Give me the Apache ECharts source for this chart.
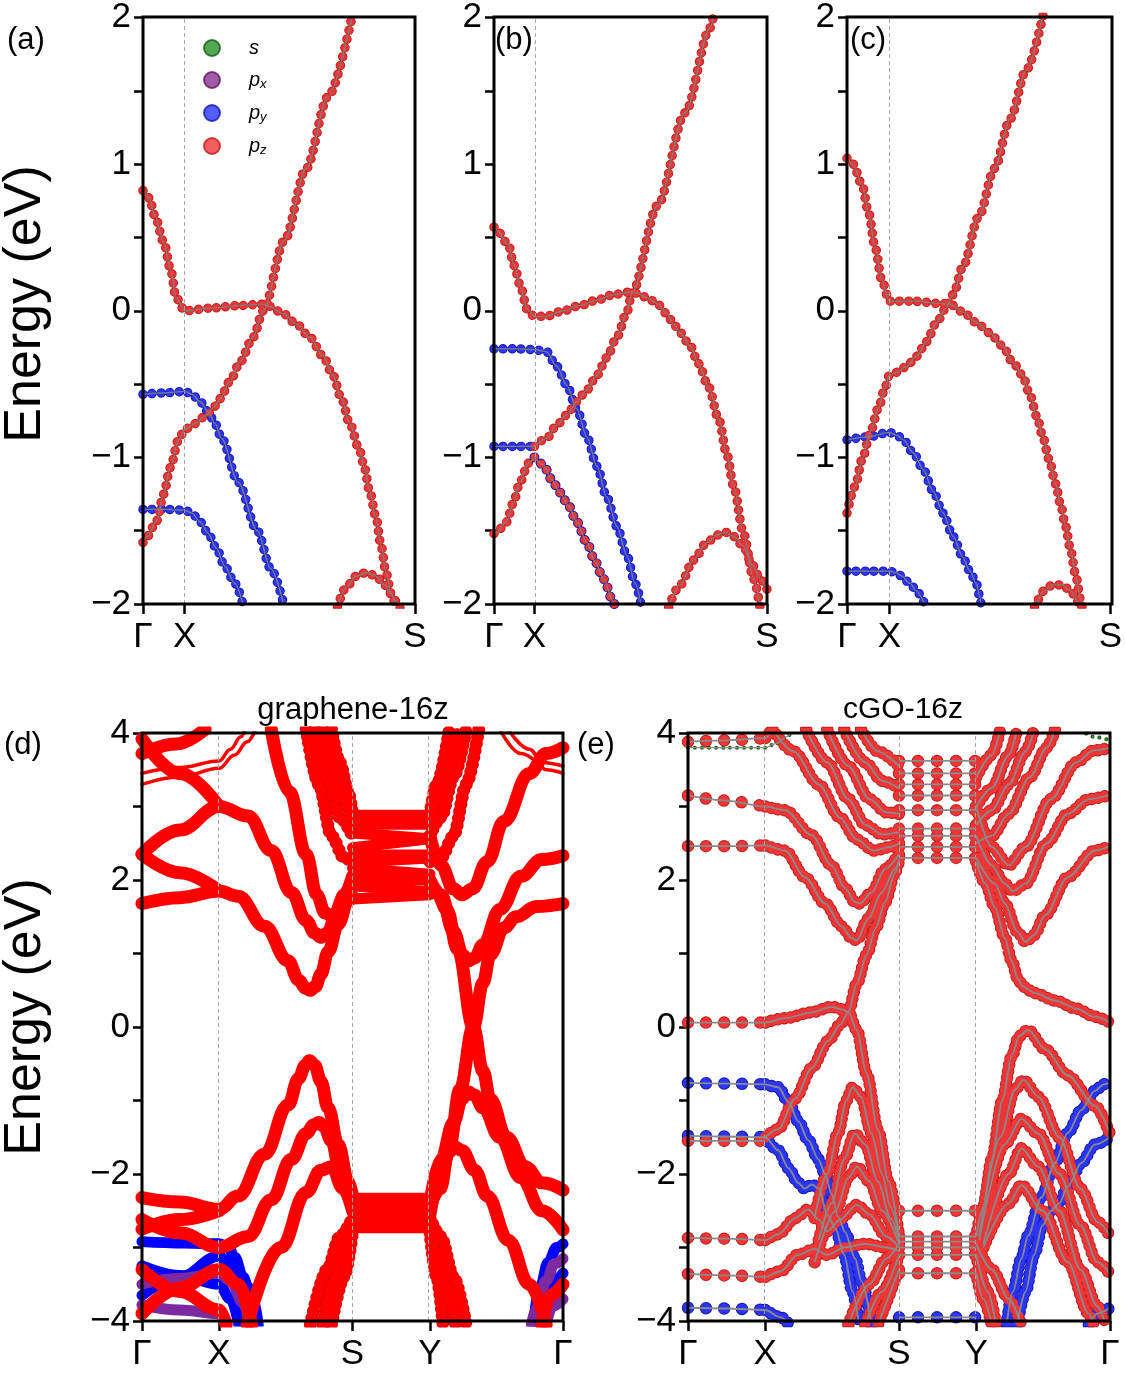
<!DOCTYPE html>
<html>
<head>
<meta charset="utf-8">
<script src="https://cdn.jsdelivr.net/npm/echarts@6/dist/echarts.min.js"></script>
<style>html,body{margin:0;background:#fff}#main{width:1125px;height:1375px}</style>
</head>
<body>
<div id="main"></div>
<script>
var FONT = 'Liberation Sans, Arial, Helvetica, sans-serif';

// ---- high symmetry points (fraction of k-path) ----
var ticksA = [0, 0.153, 1], ticksB = [0, 0.148, 1], ticksC = [0, 0.161, 1];
var ticksD = [0, 0.183, 0.5, 0.684, 1], ticksE = [0, 0.183, 0.5, 0.683, 1];
var namesTop = ['Γ', 'X', 'S'], namesBot = ['Γ', 'X', 'S', 'Y', 'Γ'];

// ---- panel (a) bands [k, E] ----
var a_pz1 = [[0,0.82],[0.023,0.77],[0.043,0.65],[0.076,0.47],[0.103,0.27],[0.121,0.09],[0.153,0.0],[0.259,0.02],[0.357,0.036],[0.442,0.045],[0.466,0.03],[0.515,-0.02],[0.564,-0.09],[0.613,-0.18],[0.662,-0.31],[0.698,-0.44],[0.73,-0.6],[0.76,-0.77],[0.796,-0.95],[0.814,-1.07],[0.833,-1.23],[0.857,-1.41],[0.875,-1.6],[0.894,-1.79],[0.912,-1.93],[0.93,-2.03]];
var a_pz2 = [[0,-1.58],[0.015,-1.54],[0.051,-1.43],[0.076,-1.25],[0.1,-1.07],[0.131,-0.88],[0.153,-0.81],[0.19,-0.77],[0.234,-0.71],[0.265,-0.65],[0.283,-0.6],[0.32,-0.48],[0.357,-0.35],[0.405,-0.18],[0.442,0.0],[0.52,0.48],[0.6,0.97],[0.68,1.46],[0.77,2.02]];
var a_py1 = [[0,-0.57],[0.08,-0.56],[0.153,-0.55],[0.18,-0.57],[0.21,-0.62],[0.24,-0.69],[0.265,-0.77],[0.289,-0.87],[0.35,-1.17],[0.42,-1.5],[0.47,-1.76],[0.52,-2.02]];
var a_py2 = [[0,-1.355],[0.08,-1.355],[0.153,-1.36],[0.18,-1.38],[0.21,-1.44],[0.24,-1.52],[0.27,-1.62],[0.3,-1.74],[0.338,-1.86],[0.37,-2.02]];
var a_pz3 = [[0.715,-2.02],[0.747,-1.885],[0.784,-1.81],[0.821,-1.785],[0.857,-1.81],[0.888,-1.87],[0.912,-1.93],[0.93,-1.98],[0.945,-2.03]];

// ---- panel (b) ----
var b_pz1 = [[0,0.57],[0.01,0.55],[0.053,0.45],[0.073,0.31],[0.1,0.15],[0.12,0.013],[0.148,-0.04],[0.193,-0.036],[0.254,0.0],[0.315,0.036],[0.377,0.073],[0.438,0.11],[0.499,0.128],[0.523,0.12],[0.56,0.09],[0.597,0.05],[0.633,-0.02],[0.658,-0.09],[0.682,-0.15],[0.719,-0.24],[0.749,-0.36],[0.786,-0.52],[0.823,-0.74],[0.853,-0.98],[0.878,-1.2],[0.914,-1.52],[0.951,-1.83],[0.975,-2.03]];
var b_py1 = [[0,-0.26],[0.08,-0.26],[0.148,-0.265],[0.193,-0.28],[0.23,-0.38],[0.267,-0.51],[0.303,-0.67],[0.34,-0.86],[0.377,-1.06],[0.413,-1.27],[0.45,-1.47],[0.487,-1.67],[0.517,-1.86],[0.54,-2.02]];
var b_py2 = [[0,-0.925],[0.08,-0.925],[0.148,-0.925]];
var b_pz2 = [[0.148,-0.925],[0.193,-0.87],[0.23,-0.78],[0.267,-0.71],[0.303,-0.62],[0.34,-0.54],[0.377,-0.44],[0.413,-0.32],[0.45,-0.18],[0.487,-0.01],[0.505,0.12],[0.6,0.72],[0.7,1.35],[0.792,1.93],[0.805,2.02]];
var b_pz3 = [[0,-1.52],[0.01,-1.51],[0.046,-1.44],[0.071,-1.31],[0.095,-1.17],[0.126,-1.04],[0.148,-1.0]];
var b_mix = [[0.148,-1.0],[0.181,-1.05],[0.211,-1.15],[0.242,-1.24],[0.273,-1.33],[0.303,-1.44],[0.34,-1.58],[0.37,-1.71],[0.401,-1.83],[0.438,-1.99],[0.445,-2.03]];
var b_pz4 = [[0.64,-2.02],[0.682,-1.87],[0.731,-1.7],[0.78,-1.58],[0.817,-1.53],[0.847,-1.51],[0.878,-1.54],[0.914,-1.61],[0.945,-1.73],[0.976,-1.83],[1,-1.9]];

// ---- panel (c) ----
var c_pz1 = [[0,1.04],[0.023,1.0],[0.057,0.86],[0.082,0.67],[0.107,0.43],[0.132,0.21],[0.161,0.065],[0.252,0.065],[0.352,0.05],[0.39,0.045],[0.44,-0.007],[0.491,-0.08],[0.541,-0.15],[0.591,-0.24],[0.629,-0.35],[0.667,-0.44],[0.692,-0.56],[0.723,-0.73],[0.742,-0.85],[0.767,-1.01],[0.792,-1.18],[0.811,-1.32],[0.83,-1.47],[0.849,-1.63],[0.868,-1.8],[0.887,-1.97],[0.893,-2.03]];
var c_pz2 = [[0,-1.38],[0.03,-1.2],[0.06,-1.0],[0.09,-0.82],[0.12,-0.66],[0.145,-0.52],[0.161,-0.44],[0.189,-0.42],[0.226,-0.38],[0.264,-0.31],[0.302,-0.21],[0.34,-0.08],[0.377,0.02],[0.403,0.11],[0.44,0.3],[0.5,0.64],[0.56,0.97],[0.62,1.31],[0.68,1.64],[0.745,2.02]];
var c_py1 = [[0,-0.88],[0.08,-0.86],[0.161,-0.83],[0.19,-0.85],[0.214,-0.88],[0.252,-0.97],[0.289,-1.08],[0.327,-1.23],[0.365,-1.38],[0.403,-1.54],[0.44,-1.68],[0.465,-1.77],[0.491,-1.86],[0.503,-1.94],[0.51,-2.02]];
var c_py2 = [[0,-1.776],[0.08,-1.776],[0.161,-1.776],[0.19,-1.79],[0.208,-1.81],[0.239,-1.86],[0.264,-1.91],[0.296,-1.99],[0.3,-2.02]];
var c_pz3 = [[0.712,-2.02],[0.717,-1.99],[0.748,-1.91],[0.78,-1.87],[0.818,-1.87],[0.849,-1.91],[0.88,-1.99],[0.885,-2.02]];

// ---- panel (d) graphene-16z ----
var d_c1 = [[0,1.68],[0.09,1.76],[0.183,1.85],[0.228,1.78],[0.291,1.37],[0.347,0.9],[0.372,0.64],[0.388,0.53],[0.4,0.5],[0.412,0.55],[0.425,0.72],[0.442,1.02],[0.466,1.4],[0.49,1.72],[0.5,1.78]];
var d_c1b = [[0,2.35],[0.09,2.1],[0.183,1.85]];
var d_c2 = [[0,2.35],[0.09,2.68],[0.183,3.0],[0.252,2.87],[0.307,2.4],[0.355,1.83],[0.39,1.45],[0.41,1.28],[0.425,1.22],[0.44,1.28],[0.46,1.5],[0.48,1.8],[0.5,2.05]];
var d_c2b = [[0,3.92],[0.09,3.45],[0.183,3.0]];
var d_c3 = [[0.307,4.05],[0.35,3.2],[0.39,2.35],[0.415,1.8],[0.435,1.55],[0.455,1.5],[0.478,1.75],[0.5,2.0]];
var d_c4 = [[0,3.72],[0.08,3.85],[0.15,4.05]];
var d_thin1 = [[0,3.3],[0.09,3.4],[0.183,3.52],[0.22,3.7],[0.25,3.88],[0.27,4.05]];
var d_thin2 = [[0,3.45],[0.09,3.53],[0.183,3.62],[0.21,3.78],[0.235,3.95],[0.245,4.05]];
var d_thinR1 = [[0.85,4.05],[0.9,3.72],[0.95,3.6],[1,3.55]];
var d_thinR2 = [[0.87,4.05],[0.92,3.78],[0.96,3.5],[1,3.45]];
var d_v1 = [[0,-2.32],[0.09,-2.38],[0.183,-2.48],[0.228,-2.3],[0.291,-1.73],[0.347,-1.06],[0.372,-0.7],[0.388,-0.52],[0.398,-0.46],[0.41,-0.52],[0.425,-0.74],[0.442,-1.1],[0.466,-1.6],[0.49,-2.1],[0.5,-2.3]];
var d_v2 = [[0,-2.62],[0.09,-2.8],[0.183,-3.0],[0.252,-2.85],[0.307,-2.35],[0.355,-1.8],[0.39,-1.45],[0.408,-1.33],[0.42,-1.3],[0.432,-1.35],[0.45,-1.55],[0.472,-2.0],[0.5,-2.4]];
var d_v3 = [[0.25,-4.05],[0.33,-3.0],[0.39,-2.25],[0.425,-1.95],[0.45,-1.9],[0.478,-2.2],[0.5,-2.5]];
var d_v4 = [[0,-2.75],[0.09,-2.62],[0.183,-2.5]];
var d_v5 = [[0,-3.3],[0.09,-3.6],[0.183,-3.85],[0.2,-4.05]];
var d_v6 = [[0,-3.9],[0.09,-3.55],[0.183,-3.3],[0.23,-3.5],[0.26,-4.05]];
var d_R1 = [[0.684,1.9],[0.7,1.82],[0.724,1.6],[0.75,1.05],[0.787,0.0],[0.81,-0.6],[0.827,-0.98],[0.866,-1.5],[0.91,-1.9],[0.95,-2.12],[1,-2.22]];
var d_R2 = [[0.684,-2.45],[0.708,-2.2],[0.731,-1.6],[0.755,-0.85],[0.787,0.0],[0.81,0.6],[0.827,0.98],[0.86,1.35],[0.889,1.5],[0.937,1.64],[1,1.68]];
var d_R3 = [[0.684,2.0],[0.71,1.8],[0.74,1.3],[0.762,0.98],[0.775,0.9],[0.79,0.94],[0.81,1.12],[0.85,1.6],[0.9,2.05],[0.95,2.28],[1,2.33]];
var d_R4 = [[0.684,-2.4],[0.71,-1.8],[0.74,-1.3],[0.76,-0.98],[0.775,-0.88],[0.79,-0.93],[0.81,-1.1],[0.85,-1.5],[0.9,-2.05],[0.95,-2.5],[1,-2.76]];
var d_R5 = [[0.684,2.6],[0.71,2.2],[0.74,1.88],[0.76,1.8],[0.785,1.88],[0.82,2.25],[0.86,2.8],[0.92,3.45],[0.96,3.72],[1,3.8]];
var d_R6 = [[0.684,-2.55],[0.71,-2.0],[0.73,-1.7],[0.742,-1.63],[0.76,-1.68],[0.79,-1.95],[0.82,-2.3],[0.87,-2.9],[0.92,-3.5],[0.96,-4.05]];
var d_bS1 = [[0.41,4.05],[0.44,3.4],[0.47,2.85],[0.5,2.6]];
var d_bS2 = [[0.43,4.05],[0.46,3.5],[0.48,3.1],[0.5,2.8]];
var d_bS3 = [[0.45,4.05],[0.47,3.6],[0.49,3.2],[0.5,2.9]];
var d_bS4 = [[0.39,4.05],[0.42,3.3],[0.45,2.6],[0.48,2.3],[0.5,2.25]];
var d_bS5 = [[0.4,-4.05],[0.44,-3.3],[0.47,-2.85],[0.5,-2.6]];
var d_bS6 = [[0.43,-4.05],[0.46,-3.4],[0.48,-3.0],[0.5,-2.75]];
var d_bS7 = [[0.45,-4.05],[0.48,-3.4],[0.5,-2.8]];
var d_bY1 = [[0.684,2.6],[0.71,2.85],[0.74,3.4],[0.77,4.05]];
var d_bY2 = [[0.684,2.8],[0.7,3.1],[0.72,3.5],[0.75,4.05]];
var d_bY3 = [[0.684,2.9],[0.7,3.3],[0.73,4.05]];
var d_bY4 = [[0.684,2.25],[0.71,2.3],[0.74,2.6],[0.77,3.3],[0.8,4.05]];
var d_bY5 = [[0.684,-2.6],[0.71,-2.85],[0.74,-3.4],[0.77,-4.05]];
var d_bY6 = [[0.684,-2.75],[0.7,-3.1],[0.72,-3.5],[0.745,-4.05]];
var d_bY7 = [[0.684,-2.8],[0.7,-3.4],[0.715,-4.05]];
var d_b1 = [[0,-2.92],[0.1,-2.94],[0.183,-2.95],[0.205,-3.0],[0.22,-3.13],[0.24,-3.4],[0.252,-3.54],[0.265,-3.75],[0.276,-4.05]];
var d_b2 = [[0,-3.25],[0.09,-3.38],[0.183,-3.5],[0.21,-3.7],[0.23,-4.05]];
var d_b3 = [[0,-3.65],[0.09,-3.4],[0.183,-3.12],[0.21,-3.25],[0.235,-3.6],[0.25,-4.05]];
var d_p1 = [[0,-3.5],[0.09,-3.42],[0.183,-3.35],[0.21,-3.45],[0.24,-3.75],[0.255,-4.05]];
var d_p2 = [[0,-3.78],[0.09,-3.85],[0.183,-3.9],[0.2,-4.05]];
var d_b4 = [[0.93,-4.05],[0.945,-3.55],[0.965,-3.2],[0.985,-3.0],[1,-2.95]];
var d_p3 = [[0.925,-4.05],[0.94,-3.8],[0.96,-3.45],[0.98,-3.22],[1,-3.15]];
var d_b5 = [[0.945,-4.05],[0.96,-3.7],[0.98,-3.45],[1,-3.35]];
var d_p4 = [[0.96,-4.05],[0.975,-3.8],[1,-3.7]];
var d_r5 = [[0.95,-4.05],[0.97,-3.65],[1,-3.5]];
// S-Y bands of (d): energy at S, energy at Y
var d_SYupS = [2.88, 2.76, 2.64, 2.44, 2.34, 2.24, 2.16, 2.02, 1.92, 1.74];
var d_SYupY = [2.88, 2.76, 2.56, 2.56, 2.34, 2.30, 2.08, 2.0, 1.84, 1.8];
var d_SYdn = [-2.33, -2.43, -2.53, -2.63, -2.73];

// ---- panel (e) cGO-16z ----
var e_c1 = [[0,3.15],[0.09,3.08],[0.183,3.0],[0.23,2.95],[0.293,2.61],[0.34,2.2],[0.372,1.89],[0.396,1.7],[0.407,1.68],[0.435,1.83],[0.467,2.15],[0.5,2.35]];
var e_c2 = [[0,2.46],[0.09,2.46],[0.183,2.47],[0.23,2.4],[0.277,2.04],[0.325,1.68],[0.364,1.37],[0.388,1.21],[0.4,1.18],[0.427,1.47],[0.459,1.83],[0.49,2.15],[0.5,2.25]];
var e_c3 = [[0.2,4.05],[0.25,3.75],[0.31,3.3],[0.36,2.85],[0.4,2.55],[0.44,2.4],[0.48,2.45],[0.5,2.5]];
var e_c4 = [[0.28,4.05],[0.33,3.6],[0.38,3.1],[0.42,2.75],[0.46,2.62],[0.5,2.65]];
var e_c5 = [[0.33,4.05],[0.38,3.55],[0.43,3.1],[0.47,2.92],[0.5,2.9]];
var e_c6 = [[0.37,4.05],[0.42,3.6],[0.46,3.35],[0.5,3.25]];
var e_c7 = [[0.41,4.05],[0.45,3.75],[0.5,3.55]];
var e_top = [[0,3.88],[0.09,3.9],[0.183,3.93],[0.2,4.05]];
var e_s1 = [[0,3.8],[0.09,3.8],[0.183,3.8],[0.21,3.86],[0.235,3.95],[0.25,4.05]];
var e_s2 = [[0.93,4.05],[0.96,3.95],[1,3.9]];
var e_A = [[0.183,-1.5],[0.214,-1.39],[0.254,-0.97],[0.293,-0.56],[0.332,-0.19],[0.36,0.03],[0.38,0.2],[0.4,0.59],[0.423,0.98],[0.445,1.35],[0.467,1.7],[0.49,2.09],[0.5,2.28]];
var e_B = [[0,0.06],[0.09,0.06],[0.183,0.06],[0.23,0.12],[0.293,0.2],[0.34,0.275],[0.365,0.24],[0.38,0.2],[0.4,-0.04],[0.423,-0.63],[0.45,-1.4],[0.475,-2.1],[0.5,-2.85]];
var e_b1 = [[0,-0.76],[0.09,-0.77],[0.183,-0.78],[0.214,-0.82],[0.238,-1.02],[0.261,-1.28],[0.285,-1.54],[0.309,-1.8],[0.325,-2.0],[0.34,-2.27],[0.356,-2.58],[0.372,-2.79],[0.396,-3.15],[0.411,-3.46],[0.435,-4.05]];
var e_b2 = [[0,-1.48],[0.09,-1.49],[0.183,-1.5],[0.214,-1.68],[0.238,-1.92],[0.261,-2.12],[0.277,-2.2],[0.293,-2.14],[0.31,-2.2],[0.33,-2.55],[0.35,-2.75],[0.37,-3.1],[0.39,-3.6],[0.405,-4.05]];
var e_r15 = [[0,-1.55],[0.09,-1.55],[0.183,-1.55]];
var e_h1 = [[0.3,-2.6],[0.33,-2.0],[0.355,-1.45],[0.375,-1.0],[0.39,-0.82],[0.41,-0.95],[0.435,-1.45],[0.46,-2.0],[0.48,-2.45],[0.5,-2.85]];
var e_h2 = [[0.31,-2.9],[0.34,-2.4],[0.37,-1.8],[0.395,-1.45],[0.42,-1.6],[0.45,-2.1],[0.48,-2.6],[0.5,-2.9]];
var e_h3 = [[0.3,-3.2],[0.35,-2.5],[0.38,-2.05],[0.4,-1.9],[0.43,-2.1],[0.46,-2.5],[0.5,-2.95]];
var e_cx = [[0,-2.87],[0.09,-2.88],[0.183,-2.9],[0.214,-2.82],[0.254,-2.6],[0.285,-2.48],[0.31,-2.62],[0.33,-2.78],[0.36,-2.62],[0.4,-2.42],[0.43,-2.55],[0.47,-2.85],[0.5,-3.0]];
var e_dx = [[0,-3.36],[0.09,-3.38],[0.183,-3.4],[0.22,-3.32],[0.26,-3.1],[0.3,-3.02],[0.33,-3.1],[0.37,-3.0],[0.42,-2.95],[0.47,-3.0],[0.5,-3.05]];
var e_blow = [[0,-3.82],[0.09,-3.83],[0.183,-3.85],[0.22,-3.95],[0.24,-4.05]];
var e_lowS1 = [[0.38,-4.05],[0.43,-3.5],[0.47,-3.15],[0.5,-2.95]];
var e_lowS2 = [[0.42,-4.05],[0.46,-3.6],[0.5,-3.1]];
var e_lowS3 = [[0.45,-4.05],[0.5,-3.3]];
var e_R1 = [[0.683,2.25],[0.705,1.95],[0.727,1.63],[0.751,1.21],[0.767,0.9],[0.782,0.65],[0.794,0.55],[0.822,0.46],[0.87,0.36],[0.92,0.25],[0.964,0.14],[1,0.06]];
var e_R2 = [[0.683,-2.85],[0.7,-2.45],[0.72,-1.8],[0.745,-1.0],[0.767,-0.4],[0.785,-0.12],[0.806,-0.04],[0.846,-0.3],[0.9,-0.66],[0.964,-1.07],[1,-1.46]];
var e_R3 = [[0.69,-2.85],[0.74,-1.5],[0.775,-0.85],[0.795,-0.72],[0.83,-0.95],[0.88,-1.5],[0.93,-2.2],[0.97,-2.65],[1,-2.84]];
var e_R4 = [[0.69,-2.9],[0.75,-1.6],[0.79,-1.25],[0.83,-1.45],[0.88,-2.0],[0.93,-2.7],[0.97,-3.2],[1,-3.36]];
var e_R5 = [[0.7,-2.95],[0.76,-2.0],[0.79,-1.65],[0.83,-1.9],[0.88,-2.5],[0.93,-3.3],[0.97,-3.8],[0.99,-4.05]];
var e_R6 = [[0.7,-3.0],[0.76,-2.4],[0.79,-2.15],[0.84,-2.5],[0.9,-3.2],[0.95,-3.9],[0.96,-4.05]];
var e_Rb1 = [[0.755,-4.05],[0.77,-3.6],[0.79,-3.15],[0.806,-2.84],[0.837,-2.32],[0.869,-1.85],[0.9,-1.44],[0.932,-1.13],[0.964,-0.87],[0.985,-0.78],[1,-0.76]];
var e_Rb2 = [[0.78,-4.05],[0.8,-3.6],[0.82,-3.1],[0.84,-2.7],[0.86,-2.5],[0.88,-2.4],[0.9,-2.17],[0.932,-1.85],[0.964,-1.6],[1,-1.5]];
var e_Rb3 = [[0.95,-4.05],[0.97,-3.9],[1,-3.82]];
var e_RC1 = [[0.683,2.3],[0.727,1.95],[0.751,1.68],[0.78,1.3],[0.8,1.16],[0.82,1.25],[0.846,1.52],[0.9,2.04],[0.964,2.4],[1,2.46]];
var e_RC2 = [[0.683,2.6],[0.72,2.2],[0.75,1.95],[0.77,1.85],[0.8,1.95],[0.85,2.5],[0.9,2.9],[0.95,3.1],[1,3.16]];
var e_RC3 = [[0.683,3.0],[0.72,2.45],[0.76,2.2],[0.8,2.45],[0.86,3.1],[0.92,3.6],[0.96,3.76],[1,3.8]];
var e_RC4 = [[0.683,2.5],[0.72,2.6],[0.76,2.9],[0.81,3.4],[0.85,3.8],[0.87,4.05]];
var e_RC5 = [[0.683,2.75],[0.72,2.95],[0.76,3.3],[0.8,3.75],[0.82,4.05]];
var e_RC6 = [[0.683,3.0],[0.72,3.25],[0.76,3.7],[0.78,4.05]];
var e_RC7 = [[0.683,3.4],[0.72,3.7],[0.74,4.05]];
var e_lowY1 = [[0.683,-2.95],[0.72,-3.3],[0.76,-3.7],[0.79,-4.05]];
var e_lowY2 = [[0.683,-3.1],[0.71,-3.6],[0.73,-4.05]];
var e_lowY3 = [[0.683,-3.35],[0.7,-3.7],[0.72,-4.05]];
var e_SYup = [2.3, 2.45, 2.6, 2.7, 2.95, 3.15, 3.3, 3.45, 3.62];
var e_SYdn = [-2.5, -2.85, -2.92, -3.0, -3.1, -3.35];
var e_SYblue = [-3.95];

// ---- colours ----
var ORB = {
  s:  {fill: '#2a8f2a', edge: '#176017'},
  px: {fill: '#8b2f91', edge: '#5e1a63'},
  py: {fill: '#2b35f5', edge: '#1616b0'},
  pz: {fill: '#ef3535', edge: '#c21d1d'}
};

// ---- layout ----
var grids = [
  {left: 143, top: 17, width: 272, height: 587},
  {left: 494, top: 17, width: 273, height: 587},
  {left: 847, top: 17, width: 265, height: 587},
  {left: 142, top: 733, width: 421, height: 588},
  {left: 688, top: 733, width: 422, height: 588}
];

function xAx(gi, ticks, names) {
  return {
    type: 'value', gridIndex: gi, min: 0, max: 1, position: 'bottom',
    axisLine: {show: false, onZero: false}, splitLine: {show: false},
    axisTick: {show: true, customValues: ticks, length: 10, lineStyle: {color: '#000', width: 2.5}},
    axisLabel: {show: true, customValues: ticks, margin: 16, fontSize: 35, color: '#000', fontFamily: FONT,
      showMinLabel: true, showMaxLabel: true,
      formatter: function (v) {
        for (var i = 0; i < ticks.length; i++) if (Math.abs(ticks[i] - v) < 1e-6) return names[i];
        return '';
      }}
  };
}
function yAx(gi, min, max, interval) {
  return {
    type: 'value', gridIndex: gi, min: min, max: max, interval: interval,
    axisLine: {show: false, onZero: false}, splitLine: {show: false},
    axisTick: {show: true, length: 9, lineStyle: {color: '#000', width: 2.5}},
    minorTick: {show: true, splitNumber: 2, length: 9, lineStyle: {color: '#000', width: 2.5}},
    axisLabel: {margin: 12, fontSize: 35, color: '#000', fontFamily: FONT,
      formatter: function (v) { return v < 0 ? '\u2212' + (-v) : String(v); }}
  };
}

var series = [];
function base(gi, data) {
  return {type: 'line', xAxisIndex: gi, yAxisIndex: gi, data: data, symbol: 'none',
    smooth: 0.3, smoothMonotone: 'x', silent: true, animation: false, clip: true};
}
// dotted band: darker rim, lighter fill, same dash pattern
function beads(gi, data, fill, edge, w, gap) {
  var s1 = base(gi, data);
  s1.z = 3;
  s1.lineStyle = {color: edge, width: w, type: [0.01, gap], cap: 'round'};
  var s2 = base(gi, data);
  s2.z = 4;
  s2.lineStyle = {color: fill, width: w - 2, type: [0.01, gap], cap: 'round'};
  series.push(s1, s2);
}
function grey(gi, data, w, col) {
  var s = base(gi, data);
  s.z = 5;
  s.lineStyle = {color: col || '#7f7f7f', width: w};
  series.push(s);
}
function solid(gi, data, col, w) {
  var s = base(gi, data);
  s.z = 3;
  s.smooth = 0.4;
  s.lineStyle = {color: col, width: w, cap: 'round', join: 'round'};
  series.push(s);
}
function vlines(gi, ks) {
  series.push({type: 'line', xAxisIndex: gi, yAxisIndex: gi, data: [], silent: true, z: 1,
    markLine: {silent: true, symbol: ['none', 'none'], label: {show: false}, animation: false,
      lineStyle: {color: '#a8a8a8', width: 1, type: [4, 3]},
      data: ks.map(function (k) { return {xAxis: k}; })}});
}

// ---- top panels ----
vlines(0, [ticksA[1]]); vlines(1, [ticksB[1]]); vlines(2, [ticksC[1]]);
var topBands = [
  [0, a_py1, 'py'], [0, a_py2, 'py'], [0, a_pz1, 'pz'], [0, a_pz2, 'pz'], [0, a_pz3, 'pz'],
  [1, b_py1, 'py'], [1, b_py2, 'py'], [1, b_pz1, 'pz'], [1, b_pz2, 'pz'], [1, b_pz3, 'pz'], [1, b_pz4, 'pz'],
  [2, c_py1, 'py'], [2, c_py2, 'py'], [2, c_pz1, 'pz'], [2, c_pz2, 'pz'], [2, c_pz3, 'pz']
];
topBands.forEach(function (b) { beads(b[0], b[1], ORB[b[2]].fill, ORB[b[2]].edge, 9.5, 9); });
// mixed py/pz band in (b)
beads(1, b_mix, ORB.pz.fill, ORB.py.edge, 10, 9);
topBands.forEach(function (b) { grey(b[0], b[1], 1.3); });
grey(1, b_mix, 1.3);

// ---- panel (d) ----
vlines(3, [ticksD[1], ticksD[2], ticksD[3]]);
var RED = '#ff0000', BLUE = '#0000ff', PURP = '#7b2aa0';
[d_b1, d_b2, d_b3, d_b4, d_b5].forEach(function (d) { solid(3, d, BLUE, 11); });
[d_p1, d_p2, d_p3, d_p4].forEach(function (d) { solid(3, d, PURP, 11); });
[d_c1, d_c1b, d_c2, d_c2b, d_c3, d_c4, d_v1, d_v2, d_v3, d_v4, d_v5, d_v6, d_r5,
 d_R1, d_R2, d_R3, d_R4, d_R5, d_R6].forEach(function (d) { solid(3, d, RED, 13); });
d_SYupS.forEach(function (E, i) { solid(3, [[ticksD[2], E], [ticksD[3], d_SYupY[i]]], RED, 11); });
d_SYdn.forEach(function (E) { solid(3, [[ticksD[2], E], [ticksD[3], E]], RED, 11); });
[d_thin1, d_thin2, d_thinR1, d_thinR2].forEach(function (d) { solid(3, d, RED, 3.5); });
[d_bS1, d_bS2, d_bS3, d_bS4, d_bS5, d_bS6, d_bS7, d_bY1, d_bY2, d_bY3, d_bY4, d_bY5, d_bY6, d_bY7]
  .forEach(function (d) { beads(3, d, RED, '#e00000', 13, 7); });

// ---- panel (e) ----
vlines(4, [ticksE[1], ticksE[2], ticksE[3]]);
var eRanges = [[ticksE[0], ticksE[1], 18], [ticksE[1], ticksE[2], 6.5], [ticksE[2], ticksE[3], 19], [ticksE[3], ticksE[4], 6.5]];
function eBand(data, orb, w) {
  eRanges.forEach(function (r) {
    var seg = data.filter(function (p) { return p[0] >= r[0] - 1e-6 && p[0] <= r[1] + 1e-6; });
    if (seg.length >= 2) beads(4, seg, ORB[orb].fill, ORB[orb].edge, w, r[2]);
  });
}
var eBands = [
  [e_b1, 'py'], [e_b2, 'py'], [e_blow, 'py'], [e_Rb1, 'py'], [e_Rb2, 'py'], [e_Rb3, 'py'],
  [e_c1, 'pz'], [e_c2, 'pz'], [e_c3, 'pz'], [e_c4, 'pz'], [e_c5, 'pz'], [e_c6, 'pz'], [e_c7, 'pz'], [e_top, 'pz'],
  [e_A, 'pz'], [e_B, 'pz'], [e_r15, 'pz'], [e_h1, 'pz'], [e_h2, 'pz'], [e_h3, 'pz'], [e_cx, 'pz'], [e_dx, 'pz'],
  [e_lowS1, 'pz'], [e_lowS2, 'pz'], [e_lowS3, 'pz'],
  [e_R1, 'pz'], [e_R2, 'pz'], [e_R3, 'pz'], [e_R4, 'pz'], [e_R5, 'pz'], [e_R6, 'pz'],
  [e_RC1, 'pz'], [e_RC2, 'pz'], [e_RC3, 'pz'], [e_RC4, 'pz'], [e_RC5, 'pz'], [e_RC6, 'pz'], [e_RC7, 'pz'],
  [e_lowY1, 'pz'], [e_lowY2, 'pz'], [e_lowY3, 'pz']
];
e_SYblue.forEach(function (E) { eBands.unshift([[[ticksE[2], E], [ticksE[3], E]], 'py']); });
e_SYup.concat(e_SYdn).forEach(function (E) { eBands.push([[[ticksE[2], E], [ticksE[3], E]], 'pz']); });
eBands.forEach(function (b) { eBand(b[0], b[1], 12.5); });
beads(4, e_s1, ORB.s.fill, ORB.s.edge, 4, 7);
beads(4, e_s2, ORB.s.fill, ORB.s.edge, 4, 7);
eBands.forEach(function (b) { grey(4, b[0], 1.8, '#8a8a8a'); });
grey(4, e_s1, 1.3, '#8a8a8a');

// legend carriers
['s', 'px', 'py', 'pz'].forEach(function (n) {
  series.push({name: n, type: 'scatter', xAxisIndex: 0, yAxisIndex: 0, data: [], silent: true,
    itemStyle: {color: ORB[n].fill, borderColor: ORB[n].edge, borderWidth: 1}});
});

// frames and texts
var graphic = grids.map(function (g) {
  return {type: 'rect', z: 100, silent: true, shape: {x: g.left, y: g.top, width: g.width, height: g.height},
    style: {fill: 'none', stroke: '#000', lineWidth: 3}};
});
function txt(t, x, y, size, align, rot) {
  return {type: 'text', z: 101, silent: true, x: x, y: y, rotation: rot || 0,
    style: {text: t, fontSize: size, fontFamily: FONT, fill: '#000', align: align || 'left', verticalAlign: 'middle'}};
}
graphic.push(txt('(a)', 7, 40, 31), txt('(b)', 495, 40, 31), txt('(c)', 850, 40, 31),
  txt('(d)', 4, 745, 31), txt('(e)', 577, 745, 31),
  txt('graphene-16z', 353, 710, 31, 'center'), txt('cGO-16z', 903, 710, 30, 'center'),
  txt('Energy (eV)', 26, 304, 52, 'center', Math.PI / 2), txt('Energy (eV)', 26, 1017, 52, 'center', Math.PI / 2));

var chart = echarts.init(document.getElementById('main'), null, {renderer: 'canvas'});
chart.setOption({
  backgroundColor: '#fff',
  animation: false,
  grid: grids,
  xAxis: [xAx(0, ticksA, namesTop), xAx(1, ticksB, namesTop), xAx(2, ticksC, namesTop), xAx(3, ticksD, namesBot), xAx(4, ticksE, namesBot)],
  yAxis: [yAx(0, -2, 2, 1), yAx(1, -2, 2, 1), yAx(2, -2, 2, 1), yAx(3, -4, 4, 2), yAx(4, -4, 4, 2)],
  legend: {
    orient: 'vertical', left: 198, top: 33, itemWidth: 16, itemHeight: 16, itemGap: 12,
    icon: 'circle', selectedMode: false, data: ['s', 'px', 'py', 'pz'],
    formatter: function (n) { return n === 's' ? '{a|s}' : '{a|p}{b|' + n.slice(1) + '}'; },
    textStyle: {rich: {
      a: {fontStyle: 'italic', fontSize: 20, fontFamily: FONT, color: '#000', padding: [0, 0, 0, 24]},
      b: {fontStyle: 'italic', fontSize: 13, fontFamily: FONT, color: '#000', padding: [9, 0, 0, 0]}
    }}
  },
  graphic: graphic,
  series: series
});
</script>
</body>
</html>
